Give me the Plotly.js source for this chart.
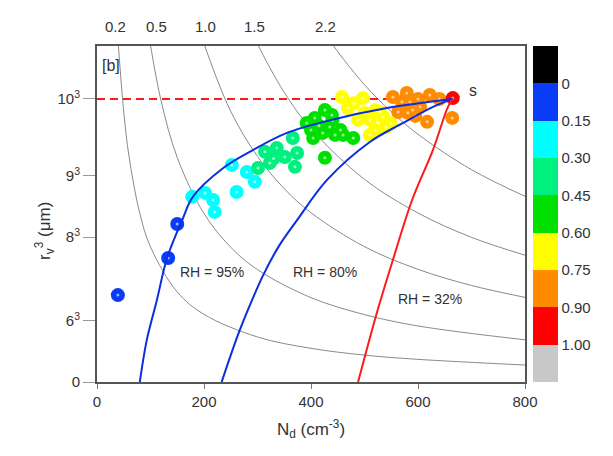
<!DOCTYPE html>
<html>
<head>
<meta charset="utf-8">
<script src="https://cdn.plot.ly/plotly-3.0.1.min.js"></script>
<style>
  body { margin: 0; background: #fff; }
  #chart { width: 613px; height: 456px; }
</style>
</head>
<body>
<div id="chart"></div>
<script>
// droplet points: N_d (cm-3), r_v^3 (um^3), fraction value for colour
var ptN  = [39, 133, 150,
            178, 202, 217, 220, 261, 252, 280, 295,
            301, 314, 336, 323, 351, 366, 374, 370, 330,
            392, 407, 426, 404, 422, 426, 439, 435, 445, 460, 479, 415, 440, 400, 455,
            458, 497, 469, 488, 510, 529, 535, 520, 510, 548, 480, 500, 520, 540,
            553, 579, 585, 622, 563, 581, 604, 617, 664, 590, 570, 600, 640, 595,
            665];
var ptR3 = [307, 438, 558,
            654, 668, 643, 601, 671, 767, 742, 707,
            756, 813, 827, 774, 795, 862, 809, 760, 790,
            915, 933, 961, 862, 880, 792, 943, 901, 873, 873, 862, 905, 925, 890, 890,
            1007, 1003, 968, 926, 926, 954, 936, 890, 873, 915, 985, 950, 960, 900,
            1007, 1021, 989, 1014, 954, 951, 972, 919, 933, 961, 990, 1000, 1000, 940,
            1003];
var ptF  = [0.08, 0.08, 0.08,
            0.22, 0.22, 0.22, 0.22, 0.22, 0.22, 0.22, 0.22,
            0.38, 0.38, 0.38, 0.38, 0.38, 0.38, 0.38, 0.38, 0.38,
            0.52, 0.52, 0.52, 0.52, 0.52, 0.52, 0.52, 0.52, 0.52, 0.52, 0.52, 0.52, 0.52, 0.52, 0.52,
            0.68, 0.68, 0.68, 0.68, 0.68, 0.68, 0.68, 0.68, 0.68, 0.68, 0.68, 0.68, 0.68, 0.68,
            0.82, 0.82, 0.82, 0.82, 0.82, 0.82, 0.82, 0.82, 0.82, 0.82, 0.82, 0.82, 0.82, 0.82,
            0.95];

// RH curves
var rh95N  = [80, 93, 112, 131, 161, 179, 236, 292, 355, 436, 542, 665];
var rh95R3 = [0, 148, 290, 438, 580, 654, 756, 820, 880, 925, 968, 1000];
var rh80N  = [233, 250, 267, 290, 310, 340, 374, 430, 510, 572, 628, 665];
var rh80R3 = [0, 95, 184, 290, 375, 480, 572, 714, 848, 915, 972, 1000];
var rh32N  = [488, 523, 553, 589, 628, 656, 665];
var rh32R3 = [0, 244, 431, 643, 820, 972, 1000];

// grey iso-lines, labelled on top
var isoLabels = ['0.2', '0.5', '1.0', '1.5', '2.2'];
var isoLabelN = [34, 112, 202, 295, 428];
var isoN = [
  [38, 40, 50, 60, 80, 100, 150, 200, 300, 400, 500, 600, 800],
  [95, 100, 120, 150, 200, 250, 300, 400, 500, 600, 800],
  [190, 201, 250, 300, 350, 400, 500, 600, 700, 800],
  [286, 301, 350, 400, 500, 600, 700, 800],
  [420, 441, 500, 550, 600, 700, 800]
];
var isoR3 = [
  [1255, 1190, 954, 795, 596, 477, 318, 239, 159, 119, 95, 80, 60],
  [1253, 1190, 992, 793, 595, 476, 397, 298, 238, 198, 149],
  [1258, 1190, 956, 797, 683, 598, 478, 398, 341, 299],
  [1252, 1190, 1023, 895, 716, 597, 511, 448],
  [1250, 1190, 1050, 955, 875, 750, 656]
];

var yTickVals = [0, 216, 512, 729, 1000];
var yTickText = ['0', '6<sup>3</sup>', '8<sup>3</sup>', '9<sup>3</sup>', '10<sup>3</sup>'];

// colour bar, top to bottom
var binEdges  = [0, 0.15, 0.30, 0.45, 0.60, 0.75, 0.90, 1.00];
var binLabels = ['0', '0.15', '0.30', '0.45', '0.60', '0.75', '0.90', '1.00'];
var binColors = ['#000000', '#0a3cf5', '#00ffff', '#00f080', '#00e000',
                 '#ffff00', '#ff8c00', '#ff0000', '#c8c8c8'];

var nb = binColors.length;

// map a fraction to its equal-height slot of the colour bar (0 at top)
function slot(f) {
    for (var k = 0; k < binEdges.length - 1; k++) {
        if (f <= binEdges[k + 1]) {
            var s = 1 + k + (f - binEdges[k]) / (binEdges[k + 1] - binEdges[k]);
            return nb - s;
        }
    }
    return 0.5;
}

var scale = [];
binColors.slice().reverse().forEach(function (c, i) {
    scale.push([i / nb, c]);
    scale.push([(i + 1) / nb, c]);
});

var traces = [];

isoN.forEach(function (xs, i) {
    traces.push({
        x: xs, y: isoR3[i], type: 'scatter', mode: 'lines',
        line: {color: '#8a8a8a', width: 1, shape: 'spline'},
        hoverinfo: 'skip', showlegend: false
    });
});

traces.push({
    x: [0, 665], y: [1000, 1000], type: 'scatter', mode: 'lines',
    line: {color: '#ff1a1a', width: 2, dash: '8px,5px'},
    showlegend: false
});

traces.push({
    x: ptN, y: ptR3, type: 'scatter', mode: 'markers',
    marker: {
        size: 14,
        color: ptF.map(slot),
        colorscale: scale,
        cmin: 0, cmax: nb,
        showscale: true,
        colorbar: {
            x: 1.019, xanchor: 'left', xpad: 0,
            y: 0.5, yanchor: 'middle', ypad: 0,
            len: 1, lenmode: 'fraction', thickness: 25,
            outlinewidth: 0,
            tickvals: [8, 7, 6, 5, 4, 3, 2, 1],
            ticktext: binLabels,
            ticks: '',
            tickfont: {family: 'Liberation Sans, Arial, sans-serif', size: 15, color: '#333'}
        }
    },
    showlegend: false
});

traces.push({
    x: ptN, y: ptR3, type: 'scatter', mode: 'markers',
    marker: {size: 3, color: 'rgba(255,255,255,0.6)'},
    hoverinfo: 'skip', showlegend: false
});

traces.push({
    x: rh95N, y: rh95R3, type: 'scatter', mode: 'lines',
    line: {color: '#0a2ee0', width: 2, shape: 'spline'}, showlegend: false
});
traces.push({
    x: rh80N, y: rh80R3, type: 'scatter', mode: 'lines',
    line: {color: '#0a2ee0', width: 2, shape: 'spline'}, showlegend: false
});
traces.push({
    x: rh32N, y: rh32R3, type: 'scatter', mode: 'lines',
    line: {color: '#ff1a1a', width: 2, shape: 'spline'}, showlegend: false
});

var font = 'Liberation Sans, Arial, sans-serif';
var annotations = [
    {text: '[b]', x: 0.008, y: 0.943, xref: 'paper', yref: 'paper', xanchor: 'left', yanchor: 'middle', showarrow: false, font: {size: 16}},
    {text: 's', x: 703, y: 1030, xref: 'x', yref: 'y', showarrow: false, font: {size: 16}},
    {text: 'RH = 95%', x: 215, y: 389, xref: 'x', yref: 'y', showarrow: false, font: {size: 14}},
    {text: 'RH = 80%', x: 426, y: 389, xref: 'x', yref: 'y', showarrow: false, font: {size: 14}},
    {text: 'RH = 32%', x: 622, y: 293, xref: 'x', yref: 'y', showarrow: false, font: {size: 14}},
    {text: 'r<sub>v</sub><sup>3</sup> (μm)', x: -0.155, y: 0.45, xref: 'paper', yref: 'paper', textangle: -90, showarrow: false, font: {size: 17}}
];
isoLabels.forEach(function (t, i) {
    annotations.push({
        text: t, x: isoLabelN[i], y: 1.057, xref: 'x', yref: 'paper',
        yanchor: 'middle', showarrow: false, font: {size: 15}
    });
});

var layout = {
    width: 613, height: 456,
    margin: {l: 97, r: 88, t: 46, b: 74},
    paper_bgcolor: '#fff', plot_bgcolor: '#fff',
    font: {family: font, color: '#333'},
    showlegend: false,
    xaxis: {
        range: [0, 800], tickvals: [0, 200, 400, 600, 800],
        showgrid: false, zeroline: false,
        showline: true, mirror: true, linecolor: '#555', linewidth: 2,
        ticks: 'outside', ticklen: 5, tickcolor: '#777',
        tickfont: {size: 15},
        title: {text: 'N<sub>d</sub> (cm<sup>-3</sup>)', font: {size: 17}, standoff: 14}
    },
    yaxis: {
        range: [0, 1187], tickvals: yTickVals, ticktext: yTickText,
        showgrid: false, zeroline: false,
        showline: true, mirror: true, linecolor: '#555', linewidth: 2,
        ticks: 'outside', ticklen: 12, tickcolor: '#999',
        tickfont: {size: 15}
    },
    annotations: annotations
};

Plotly.newPlot('chart', traces, layout, {displayModeBar: false, staticPlot: true});
</script>
</body>
</html>
